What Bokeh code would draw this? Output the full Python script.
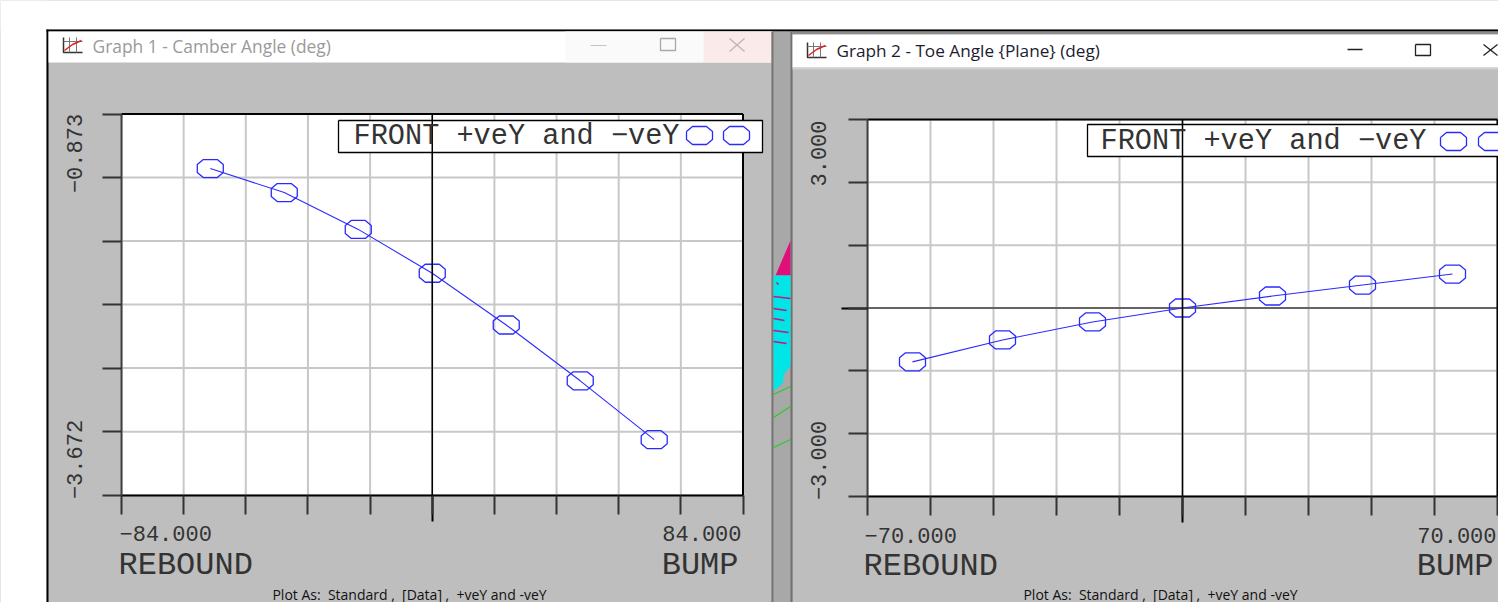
from bokeh.core.properties import value
from bokeh.embed import file_html
from bokeh.resources import INLINE
from bokeh.plotting import figure
from bokeh.models import Range1d, FixedTicker, LinearAxis

# ---- data ----
travel = [-75, -50, -25, 0, 25, 50, 75]
camber = [-0.774, -1.038, -1.444, -1.927, -2.497, -3.112, -3.760]
toe = [-1.286, -0.762, -0.333, 0.0, 0.286, 0.548, 0.810]
camber_xticks = [-105, -84, -63, -42, -21, 0, 21, 42, 63, 84, 105]
camber_yticks = [-0.173, -0.873, -1.573, -2.272, -2.972, -3.672, -4.372]
toe_xticks = [-87.5, -70, -52.5, -35, -17.5, 0, 17.5, 35, 52.5, 70, 87.5]
toe_yticks = [-4.5, -3, -1.5, 0, 1.5, 3, 4.5]
camber_title = "Graph 1 - Camber Angle (deg)"
toe_title = "Graph 2 - Toe Angle {Plane} (deg)"
legend_text = "FRONT +veY and \u2212veY"
footer_text = "Plot As:\u00a0 Standard ,\u00a0 [Data] ,\u00a0 +veY and -veY"
camber_ylabels = ["\u22120.873", "\u22123.672"]
toe_ylabels = ["3.000", "\u22123.000"]
camber_xlabels = ["\u221284.000", "84.000"]
toe_xlabels = ["\u221270.000", "70.000"]
end_labels = ["REBOUND", "BUMP"]

W, H = 1498, 602
GRAY = "#bebebe"
GRID = "#c8c8c8"
BLUE = "#2a2aff"
CAD = "Liberation Mono"
INK = "#333333"
OCT = [(-13, -4), (-7, -9), (7, -9), (13, -4), (13, 4), (7, 9), (-7, 9), (-13, 4)]

# one canvas in page pixels; every chart has its own ranges mapped on its frame
p = figure(width=W, height=H, output_backend="svg", toolbar_location=None,
           x_range=Range1d(0, W), y_range=Range1d(H, 0), x_axis_location=None, y_axis_location=None,
           min_border=0, min_border_left=0, min_border_right=0, min_border_top=0, min_border_bottom=0,
           border_fill_color=GRAY, background_fill_color=GRAY, outline_line_color=None)
p.grid.visible = False


def box(l, t, r, b, color, level="image"):
    p.quad(left=[l], right=[r], top=[t], bottom=[b], fill_color=color, line_color=None, level=level)


def poly(pts, fill=None, line=None, w=1.0, level="underlay"):
    if fill:
        p.patch([a for a, _ in pts], [b for _, b in pts], fill_color=fill, line_color=None, level=level)
    else:
        p.line([a for a, _ in pts], [b for _, b in pts], line_color=line, line_width=w, level=level)


def text(s, x, y, size, font=CAD, color=INK, align="left", angle=0.0):
    p.text(x=[x], y=[y], text=[s], text_font=value(font), text_font_size=f"{size}px", text_color=color,
           text_align=align, text_baseline="middle", angle=angle, level="overlay")


def octagon(cx, cy):
    pts = [(cx + a, cy + b) for a, b in OCT]
    poly(pts + pts[:1], line=BLUE, w=1.3, level="overlay")


def chart(name, fl, ft, fr, fb, xr, yr, xt, yt, zero_h):
    kx = (xr[1] - xr[0]) / (fr - fl)
    ky = (yr[1] - yr[0]) / (fb - ft)
    xn, yn = name + "x", name + "y"
    p.extra_x_ranges[xn] = Range1d(xr[0] - fl * kx, xr[1] + (W - fr) * kx)
    p.extra_y_ranges[yn] = Range1d(yr[0] - (H - fb) * ky, yr[1] + ft * ky)
    box(fl, ft, fr, fb, "white", level="image")
    p.segment(x0=xt, x1=xt, y0=[yr[0]] * len(xt), y1=[yr[1]] * len(xt), line_color=GRID, line_width=2,
              x_range_name=xn, y_range_name=yn, level="underlay")
    p.segment(x0=[xr[0]] * len(yt), x1=[xr[1]] * len(yt), y0=yt, y1=yt, line_color=GRID, line_width=2,
              x_range_name=xn, y_range_name=yn, level="underlay")
    common = dict(major_tick_in=0, major_tick_out=26, minor_tick_in=0, minor_tick_out=19,
                  major_tick_line_color="black", major_tick_line_width=2,
                  minor_tick_line_color="#333333", minor_tick_line_width=2,
                  major_label_overrides={0: ""}, major_label_standoff=0)
    p.add_layout(LinearAxis(x_range_name=xn, fixed_location=fb, bounds=xr, axis_line_color="black",
                            axis_line_width=2, ticker=FixedTicker(ticks=[0], minor_ticks=xt), **common), "below")
    p.add_layout(LinearAxis(y_range_name=yn, fixed_location=fl, bounds=yr, axis_line_color="#404040",
                            axis_line_width=2, ticker=FixedTicker(ticks=[0] if zero_h else [], minor_ticks=yt),
                            **common), "left")
    # top and right frame edges
    p.segment(x0=[xr[0], xr[1]], y0=[yr[1], yr[0]], x1=[xr[1], xr[1]], y1=[yr[1], yr[1]], line_color="black",
              line_width=2, x_range_name=xn, y_range_name=yn, level="guide")
    # central zero lines
    p.segment(x0=[0], y0=[yr[0]], x1=[0], y1=[yr[1]], line_color="black", line_width=1.5,
              x_range_name=xn, y_range_name=yn, level="overlay")
    if zero_h:
        p.segment(x0=[xr[0]], y0=[0], x1=[xr[1]], y1=[0], line_color="black", line_width=1,
                  x_range_name=xn, y_range_name=yn, level="glyph")
    return xn, yn, kx, ky


def curve(names, ys):
    xn, yn, kx, ky = names
    p.line(travel, ys, line_color=BLUE, line_width=1.1, x_range_name=xn, y_range_name=yn)
    p.patches([[x + a * kx for a, _ in OCT] for x in travel], [[y - b * ky for _, b in OCT] for y in ys],
              fill_color=None, line_color=BLUE, line_width=1.3, x_range_name=xn, y_range_name=yn)


def icon(x, y):
    box(x, y, x + 20, y + 16, "#fdfdfd", level="underlay")
    poly([(x, y), (x, y + 15), (x + 19, y + 15)], line="#333333", w=1.5)
    poly([(x + 6, y), (x + 6, y + 15)], line="#777777")
    poly([(x + 13, y), (x + 13, y + 15)], line="#777777")
    poly([(x, y + 4), (x + 19, y + 4)], line="#777777")
    poly([(x + 1, y + 13), (x + 9, y + 7), (x + 18, y + 3)], line="#e02020", w=1.5)


# ---- window chrome ----
box(0, 0, W, 29, "white")
box(0, 0, 46, H, "white")
box(46, 29, W, 31, "black")
box(46, 29, 48, H, "black")
box(48, 31, 772, 62, "white")
box(565, 31, 703, 62, "#fafafa")
box(703, 31, 772, 62, "#fbeaea")
box(771, 31, 792, H, "#a8a8a8")
box(771, 31, 773, H, "#777777")
box(790, 31, 792, H, "#707070")
box(792, 31, W, 34, "#8c8c8c")
box(792, 34, W, 67, "white")
box(792, 67, W, 69, "#d0d0d0")
# scene visible between the windows
poly([(775, 275), (790, 240), (790, 275)], fill="#e0107a")
poly([(773, 275), (790, 275), (790, 365), (783, 375), (783, 381), (779, 386), (773, 390)], fill="#00e5e5")
for a, b, c in [(776, 778, 282), (773, 790, 296), (773, 786, 308), (773, 784, 318), (773, 788, 330), (773, 786, 341)]:
    poly([(a, c), (b, c + 2)], line="#d01080", w=1.5)
for c, d in [(394, 386), (417, 406), (447, 439)]:
    poly([(773, c), (790, d)], line="#20d020", w=1.2)

# ---- left window ----
n1 = chart("camber", 121, 113.5, 742.5, 494.7, (-105, 105), (-4.372, -0.173), camber_xticks, camber_yticks, False)
curve(n1, camber)
icon(63, 37)
text(camber_title, 92, 45, 17.4, font="Open Sans", color="#9a9a9a")
poly([(590, 45), (606, 45)], line="#c4c4c4")
poly([(660, 38), (675, 38), (675, 50), (660, 50), (660, 38)], line="#a8a8a8", w=1.3)
poly([(729, 38), (744, 51)], line="#c0b4b4", w=1.3)
poly([(744, 38), (729, 51)], line="#c0b4b4", w=1.3)
box(338, 120, 762, 152, "white", level="annotation")
p.line([338, 762, 762, 338, 338], [120, 120, 152, 152, 120], line_color="black", line_width=1.3, level="annotation")
text(legend_text, 353, 136, 28.6)
octagon(699, 135)
octagon(736, 135)
text(camber_ylabels[0], 74, 153, 22, angle=1.5708, align="center")
text(camber_ylabels[1], 74, 459, 22, angle=1.5708, align="center")
text(camber_xlabels[0], 119, 533, 22)
text(camber_xlabels[1], 741, 533, 22, align="right")
text(end_labels[0], 118, 565, 32)
text(end_labels[1], 738, 565, 32, align="right")
text(footer_text, 409, 594, 14, font="Open Sans", align="center", color="#111111")

# ---- right window ----
n2 = chart("toe", 867, 119, 1497, 496, (-87.5, 87.5), (-4.5, 4.5), toe_xticks, toe_yticks, True)
curve(n2, toe)
icon(807, 42)
text(toe_title, 836, 50, 17.2, font="Open Sans", color="#1c1c30")
poly([(1347, 49), (1362, 49)], line="#222222", w=1.3)
poly([(1415, 44), (1430, 44), (1430, 55), (1415, 55), (1415, 44)], line="#222222", w=1.3)
poly([(1483, 44), (1497, 55)], line="#222222", w=1.3)
poly([(1497, 44), (1483, 55)], line="#222222", w=1.3)
box(1087, 124, W, 156, "white", level="annotation")
p.line([W, 1087, 1087, W], [124, 124, 156, 156], line_color="black", line_width=1.3, level="annotation")
text(legend_text, 1100, 141, 28.6)
octagon(1453, 141)
octagon(1491, 141)
text(toe_ylabels[0], 818, 153, 22, angle=1.5708, align="center")
text(toe_ylabels[1], 818, 460, 22, angle=1.5708, align="center")
text(toe_xlabels[0], 864, 535, 22)
text(toe_xlabels[1], 1496, 535, 22, align="right")
text(end_labels[0], 863, 566, 32)
text(end_labels[1], 1493, 566, 32, align="right")
text(footer_text, 1160, 594, 14, font="Open Sans", align="center", color="#111111")

open("out.html", "w").write(file_html(p, INLINE))
